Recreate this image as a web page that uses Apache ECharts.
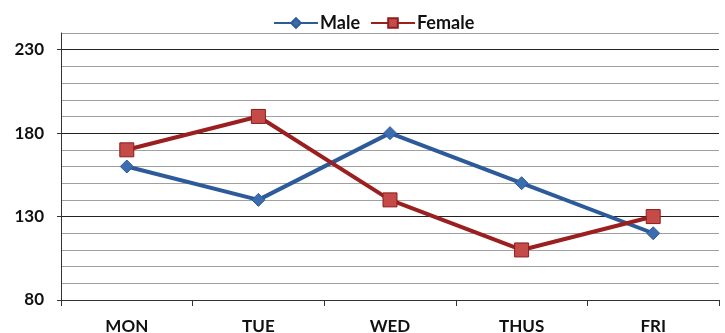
<!DOCTYPE html>
<html>
<head>
<meta charset="utf-8">
<script src="https://cdn.jsdelivr.net/npm/echarts@6/dist/echarts.min.js"></script>
<style>
  html, body { margin: 0; padding: 0; background: #fff; }
  #chartBox { width: 725px; height: 333px; }
</style>
</head>
<body>
<div id="chartBox"></div>
<script>
// data
const days = ['MON', 'TUE', 'WED', 'THUS', 'FRI'];
const male = [160, 140, 180, 150, 120];
const female = [170, 190, 140, 110, 130];
const yLabels = [80, 130, 180, 230];

const myChart = echarts.init(document.getElementById('chartBox'));
const font = 'Lato, "Open Sans", sans-serif';

myChart.setOption({
  animation: false,
  legend: {
    top: 9,
    left: 268,
    itemWidth: 44,
    itemHeight: 12,
    itemGap: 10,
    textStyle: { fontFamily: font, fontWeight: 'bold', fontSize: 18, color: '#111', padding: [0, 0, 0, -3] },
    data: ['Male', 'Female']
  },
  grid: { left: 61, right: 6, top: 33, bottom: 33, containLabel: false, outerBoundsMode: 'none' },
  xAxis: {
    type: 'category',
    data: days,
    boundaryGap: true,
    axisLine: { lineStyle: { color: '#333', width: 1 } },
    axisTick: { show: true, length: 6, lineStyle: { color: '#333' } },
    axisLabel: { margin: 18, fontFamily: font, fontWeight: 'bold', fontSize: 17, color: '#111' }
  },
  yAxis: [
    {
      // minor gray lines every 10
      type: 'value',
      min: 80,
      max: 240,
      interval: 10,
      axisLine: { show: false },
      axisTick: { show: false },
      axisLabel: { show: false },
      splitLine: { lineStyle: { color: '#a0a0a0', width: 1 } }
    },
    {
      type: 'value',
      position: 'left',
      min: 80,
      max: 240,
      interval: 10,
      axisLine: { show: true, lineStyle: { color: '#333' } },
      axisTick: { show: true, length: 4, customValues: yLabels, lineStyle: { color: '#333' } },
      axisLabel: { customValues: yLabels, margin: 17, fontFamily: font, fontWeight: 'bold', fontSize: 17, color: '#111' },
      splitLine: { show: true, lineStyle: { color: '#222', width: 1 } }
    }
  ],
  series: [
    {
      name: 'Male',
      type: 'line',
      yAxisIndex: 1,
      data: male,
      symbol: 'diamond',
      symbolSize: 13,
      lineStyle: { color: '#2D5B9A', width: 4 },
      itemStyle: { color: '#3B6DB0', borderColor: '#2D5B9A', borderWidth: 1 }
    },
    {
      name: 'Female',
      type: 'line',
      yAxisIndex: 1,
      data: female,
      symbol: 'rect',
      symbolSize: 14,
      lineStyle: { color: '#9C1F1F', width: 4 },
      itemStyle: { color: '#C44B48', borderColor: '#8E1C1C', borderWidth: 1 }
    }
  ]
});
</script>
</body>
</html>
